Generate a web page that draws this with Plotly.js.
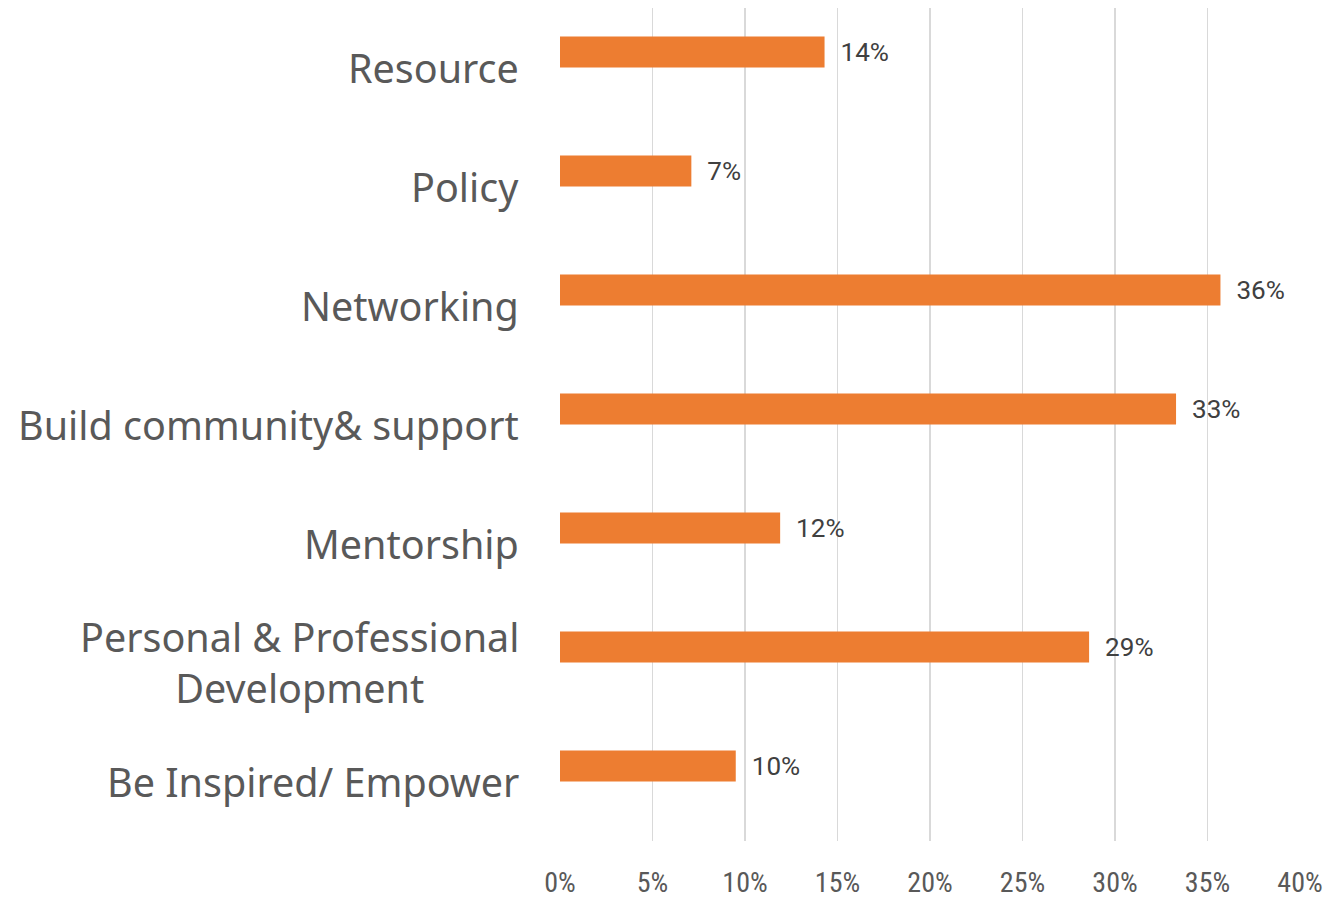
<!DOCTYPE html>
<html>
<head>
<meta charset="utf-8">
<script src="https://cdn.plot.ly/plotly-3.0.1.min.js"></script>
<style>html,body{margin:0;padding:0;background:#fff;}#chart{width:1331px;height:899px;}</style>
</head>
<body>
<div id="chart"></div>
<script>
var categories = ["Resource", "Policy", "Networking", "Build community& support", "Mentorship", "Personal & Professional<br>Development", "Be Inspired/ Empower"];
var values = [0.143, 0.071, 0.357, 0.333, 0.119, 0.286, 0.095];
var xTickVals = [0, 0.05, 0.10, 0.15, 0.20, 0.25, 0.30, 0.35, 0.40];
var xTickText = ["0%", "5%", "10%", "15%", "20%", "25%", "30%", "35%", "40%"];

var trace = {
  type: 'bar',
  orientation: 'h',
  x: values,
  y: categories,
  width: 0.26,
  offset: -0.26,
  marker: {color: '#ED7D31'},
  text: values.map(function(v){ return '\u00a0\u00a0' + Math.round(v*100) + '%'; }),
  textposition: 'outside',
  cliponaxis: false,
  textfont: {family: 'Roboto, sans-serif', size: 27, color: '#404040'},
  hoverinfo: 'none'
};

var annotations = categories.map(function(c){
  return {
    xref: 'paper', yref: 'y', x: 0, y: c,
    xanchor: 'right', yanchor: 'middle', xshift: -39,
    text: c, showarrow: false, align: 'center',
    font: {family: '"Noto Sans", sans-serif', size: 39.5, color: '#595959'}
  };
});

var layout = {
  width: 1331, height: 899,
  margin: {l: 560, r: 31, t: 8, b: 58},
  paper_bgcolor: '#ffffff', plot_bgcolor: '#ffffff',
  showlegend: false,
  xaxis: {
    range: [0, 0.40],
    tickvals: xTickVals, ticktext: xTickText,
    showgrid: true, gridcolor: '#D9D9D9', gridwidth: 1.5,
    zeroline: false, showline: false, ticks: '',
    ticklabelstandoff: 22,
    tickfont: {family: '"Liberation Sans Narrow", "Roboto Condensed", Roboto, sans-serif', size: 28, color: '#595959'}
  },
  yaxis: {
    type: 'category', autorange: 'reversed',
    showticklabels: false, showgrid: false, zeroline: false, showline: false, ticks: ''
  },
  annotations: annotations
};

Plotly.newPlot('chart', [trace], layout, {displayModeBar: false, staticPlot: true});
</script>
</body>
</html>
